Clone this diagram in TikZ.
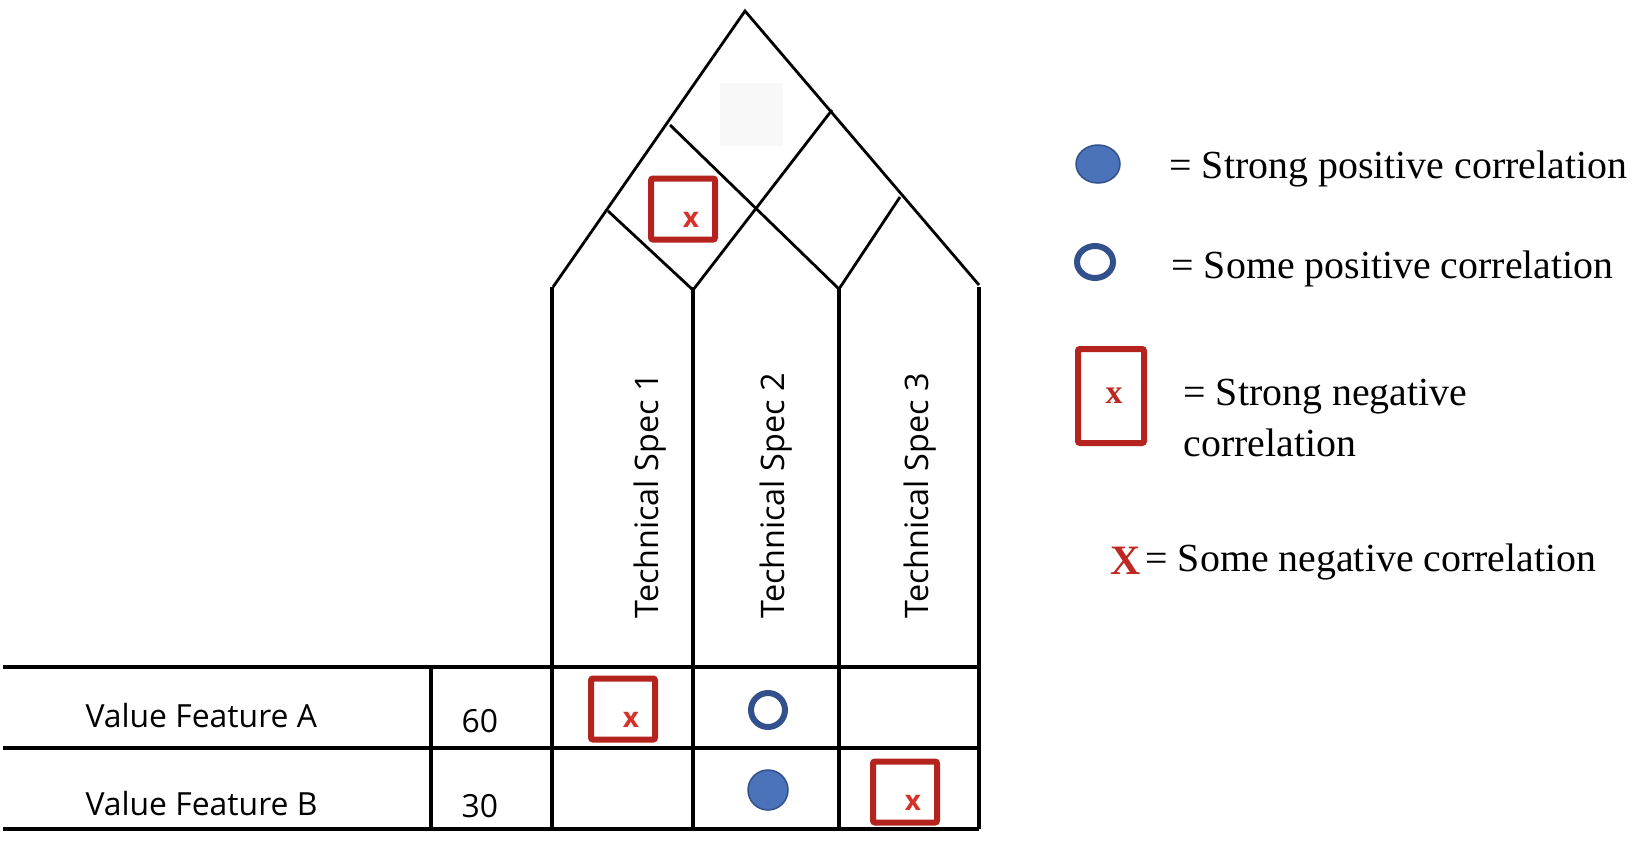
\documentclass[tikz,border=0pt]{standalone}
\usepackage{fontspec}
\usetikzlibrary{shapes.geometric}
\setmainfont{Liberation Serif}
\newfontfamily\sansf{Open Sans}
\begin{document}
\begin{tikzpicture}[x=1bp,y=-1bp,
  ln/.style={line width=4.5bp,black},
  rf/.style={line width=2.8bp,black},
  sq/.style={draw={rgb,255:red,180;green,35;blue,30},line width=6bp,rounded corners=2bp,minimum width=64bp,minimum height=61bp,inner sep=0pt},
  xm/.style={text={rgb,255:red,215;green,50;blue,40},font=\sansf\fontsize{28}{28}\selectfont\bfseries},
  lab/.style={font=\sansf\fontsize{32}{34}\selectfont,anchor=west},
  spec/.style={font=\sansf\fontsize{32.5}{34}\selectfont,rotate=90,anchor=center},
  leg/.style={font=\fontsize{40}{52}\selectfont,anchor=west,align=left},
  fc/.style={circle,fill={rgb,255:red,75;green,115;blue,185},draw={rgb,255:red,50;green,80;blue,140},line width=1.5bp,minimum size=40bp,inner sep=0pt},
  oc/.style={circle,draw={rgb,255:red,50;green,80;blue,140},line width=6bp,minimum size=34bp,inner sep=0pt}]
\useasboundingbox (0,0) rectangle (1648,857);
% roof
\coordinate (L) at (553,287); \coordinate (A) at (745,11); \coordinate (R) at (979,285);
\coordinate (p1) at (670,125); \coordinate (p2) at (608,211); \coordinate (v1) at (693,290);
\coordinate (c) at (755,208); \coordinate (p3) at (832,110); \coordinate (p4) at (900,197);
\coordinate (v2) at (839,289);
\draw[rf] (L) -- (A) -- (R);
\draw[rf] (p1) -- (v2) -- (p4);
\draw[rf] (p2) -- (v1) -- (p3);
\node[fill={rgb,255:red,248;green,248;blue,248},minimum size=63bp,inner sep=0pt] (g) at (751,114) {};
% verticals
\foreach \x/\n in {552/a,693/b,839/c,979/d}{\draw[ln] (\x,287) -- (\x,829);}
\draw[ln] (431,667) -- (431,829);
\foreach \y in {667,748,829}{\draw[ln] (3,\y) -- (979,\y);}
% labels
\node[spec] (s1) at (650,496) {Technical Spec 1};
\node[spec] (s2) at (776,496) {Technical Spec 2};
\node[spec] (s3) at (920,496) {Technical Spec 3};
\node[lab] (va) at (82,716) {Value Feature A};
\node[lab] (vb) at (82,804) {Value Feature B};
\node[lab] (n60) at (458,721) {60};
\node[lab] (n30) at (458,806) {30};
% symbols
\node[sq] (t1) at (683,209) {}; \node[xm] at (691,220) {x};
\node[sq] (a1) at (623,709) {}; \node[xm] at (631,720) {x};
\node[oc] (a2) at (768,710) {};
\node[fc] (b2) at (768,790) {};
\node[sq] (b3) at (905,792) {}; \node[xm] at (913,803) {x};
% legend
\node[fc,ellipse,minimum width=44bp,minimum height=38bp] (l1) at (1098,164) {};
\node[leg] (lt1) at (1166,169) {= Strong positive correlation};
\node[oc,ellipse,minimum width=36bp,minimum height=32bp] (l2) at (1095,262) {};
\node[leg] (lt2) at (1168,269) {= Some positive correlation};
\node[sq,minimum width=66bp,minimum height=94bp] (l3) at (1111,396) {};
\node[text={rgb,255:red,190;green,40;blue,35},font=\fontsize{34}{34}\selectfont\bfseries] at (1114,396) {x};
\node[leg] (lt3) at (1180,418) {= Strong negative\\ correlation};
\node[text={rgb,255:red,190;green,40;blue,35},font=\fontsize{42}{42}\selectfont\bfseries] (lx) at (1126,561) {X};
\node[leg] (lt4) at (1142,562) {= Some negative correlation};
\end{tikzpicture}
\end{document}
